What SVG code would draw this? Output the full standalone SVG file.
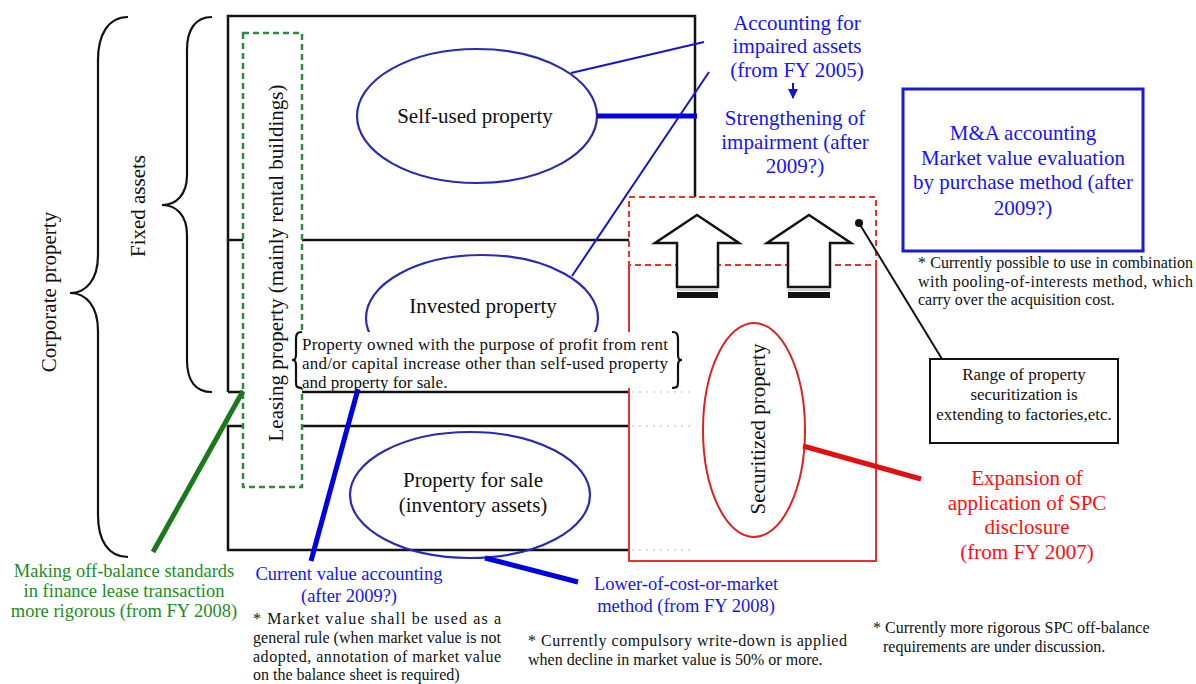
<svg xmlns="http://www.w3.org/2000/svg" width="1196" height="684" viewBox="0 0 1196 684">
<defs>
<style>
text{font-family:"Liberation Serif","Times New Roman",serif;}
.t21{font-size:21px;fill:#111;}
.blue{fill:#1414ff;}
.red{fill:#ff1010;}
.green{fill:#1e8c1e;}
.note{font-size:16px;fill:#111;}
.frame{fill:none;stroke:#111;stroke-width:2.5;}
.brace{fill:none;stroke:#111;stroke-width:2.2;}
.bellipse{fill:none;stroke:#2a2ab4;stroke-width:2.2;}
.rdash{fill:none;stroke:#e83030;stroke-width:2;stroke-dasharray:6 4;}
.rsolid{fill:none;stroke:#e83030;stroke-width:2;}
.faint{stroke:#d0d0d0;stroke-width:1.5;stroke-dasharray:2 5;fill:none;}
</style>
<marker id="ah" viewBox="0 0 10 10" refX="9" refY="5" markerWidth="5" markerHeight="5" orient="auto"><path d="M0,0 L10,5 L0,10 z" fill="#1414cc"/></marker>
</defs>
<rect width="1196" height="684" fill="#fff"/>

<g id="braces">
<path class="brace" d="M212,17 C195,17 187,30 187,50 L187,175 C187,195 176,205 162,205 C176,205 187,215 187,235 L187,360 C187,380 195,392 212,392"/>
<path class="brace" d="M128,17 C108,17 98,35 98,60 L98,255 C98,280 86,293 70,293 C86,293 98,306 98,331 L98,515 C98,540 108,557 128,557"/>
<text class="t21" transform="translate(145,206) rotate(-90)" text-anchor="middle">Fixed assets</text>
<text class="t21" transform="translate(56,292) rotate(-90)" text-anchor="middle">Corporate property</text>
</g>

<g id="frame">
<path class="frame" d="M228,392 L228,16 L695,16 L695,197"/>
<line class="frame" x1="228" y1="240" x2="629" y2="240"/>
<line class="frame" x1="228" y1="392" x2="629" y2="392"/>
<path class="frame" d="M629,426 L228,426 L228,550 L629,550"/>
<line class="faint" x1="632" y1="392" x2="690" y2="392"/>
<line class="faint" x1="632" y1="426" x2="690" y2="426"/>
<line class="faint" x1="632" y1="550" x2="690" y2="550"/>
</g>

<g id="securitized-box">
<rect class="rdash" x="629" y="197" width="247" height="68"/>
<path class="rsolid" d="M629,265 L629,561 L876,561 L876,265"/>
</g>

<g id="leasing">
<rect x="243" y="33" width="59" height="454" fill="#fff" stroke="#2e8b3e" stroke-width="2.5" stroke-dasharray="6 4"/>
<text class="t21" transform="translate(283,263) rotate(-90)" text-anchor="middle">Leasing property (mainly rental buildings)</text>
</g>

<g id="self-used">
<ellipse class="bellipse" cx="477" cy="116" rx="120" ry="67" fill="#fff"/>
<text class="t21" x="475" y="123" text-anchor="middle">Self-used property</text>
</g>

<g id="invested">
<ellipse class="bellipse" cx="482" cy="318" rx="116" ry="63"/>
<text class="t21" x="483" y="313" text-anchor="middle">Invested property</text>
</g>

<g id="invested-definition">
<rect x="295" y="332" width="383" height="56" fill="#fff"/>
<path class="brace" stroke-width="1.8" d="M302,332 C297,332 296,334 296,340 L296,354 C296,359 295,360 292,360 C295,360 296,361 296,366 L296,382 C296,387 297,388 302,388"/>
<path class="brace" stroke-width="1.8" d="M672,332 C677,332 678,334 678,340 L678,354 C678,359 679,360 682,360 C679,360 678,361 678,366 L678,382 C678,387 677,388 672,388"/>
<text style="font-size:17px;fill:#111" x="302" y="350" textLength="366" lengthAdjust="spacing">Property owned with the purpose of profit from rent</text>
<text style="font-size:17px;fill:#111" x="302" y="369" textLength="366" lengthAdjust="spacing">and/or capital increase other than self-used property</text>
<text style="font-size:17px;fill:#111" x="302" y="388">and property for sale.</text>
</g>

<g id="for-sale">
<ellipse class="bellipse" cx="470" cy="495" rx="120" ry="63"/>
<text class="t21" x="473" y="487" text-anchor="middle">Property for sale</text>
<text class="t21" x="473" y="512" text-anchor="middle">(inventory assets)</text>
</g>

<g id="securitized">
<ellipse cx="754" cy="430" rx="51" ry="107" fill="none" stroke="#e02020" stroke-width="2"/>
<text class="t21" transform="translate(765,429) rotate(-90)" text-anchor="middle">Securitized property</text>
</g>

<g id="arrows">
<polygon points="697,215 739,243 718,243 718,287 677,287 677,243 655,243" fill="#fff" stroke="#111" stroke-width="2.5" stroke-linejoin="miter"/>
<line x1="677" y1="290" x2="718" y2="290" stroke="#bbb" stroke-width="1.5"/>
<rect x="677" y="292" width="41" height="6" fill="#111"/>
<polygon points="809,215 851,243 830,243 830,287 788,287 788,243 767,243" fill="#fff" stroke="#111" stroke-width="2.5" stroke-linejoin="miter"/>
<line x1="788" y1="290" x2="830" y2="290" stroke="#bbb" stroke-width="1.5"/>
<rect x="788" y="292" width="42" height="6" fill="#111"/>
</g>

<g id="connectors">
<line x1="571" y1="73" x2="704" y2="42" stroke="#1515d0" stroke-width="2"/>
<line x1="597" y1="116" x2="697" y2="116" stroke="#0000e0" stroke-width="5"/>
<line x1="572" y1="276" x2="709" y2="72" stroke="#1515d0" stroke-width="2"/>
<line x1="358" y1="389" x2="311" y2="561" stroke="#0000e0" stroke-width="5"/>
<line x1="485" y1="558" x2="578" y2="582" stroke="#0000e0" stroke-width="5"/>
<line x1="243" y1="391" x2="153" y2="552" stroke="#1a7a1a" stroke-width="5"/>
<line x1="803" y1="446" x2="921" y2="479" stroke="#e01010" stroke-width="5"/>
<circle cx="859" cy="223" r="4" fill="#111"/>
<line x1="859" y1="223" x2="942" y2="359" stroke="#111" stroke-width="2"/>
<line x1="793" y1="83" x2="793" y2="98" stroke="#1414cc" stroke-width="2" marker-end="url(#ah)"/>
</g>

<g id="impaired-text">
<text class="t21 blue" x="797" y="30" text-anchor="middle">Accounting for</text>
<text class="t21 blue" x="797" y="53" text-anchor="middle">impaired assets</text>
<text class="t21 blue" x="797" y="77" text-anchor="middle">(from FY 2005)</text>
<text class="t21 blue" x="795" y="125" text-anchor="middle">Strengthening of</text>
<text class="t21 blue" x="795" y="149" text-anchor="middle">impairment (after</text>
<text class="t21 blue" x="795" y="173" text-anchor="middle">2009?)</text>
</g>

<g id="ma-box">
<rect x="903" y="89" width="240" height="162" fill="#fff" stroke="#1a1ad0" stroke-width="3"/>
<text class="t21 blue" x="1023" y="140" text-anchor="middle">M&amp;A accounting</text>
<text class="t21 blue" x="1023" y="165" text-anchor="middle">Market value evaluation</text>
<text class="t21 blue" x="1023" y="189" text-anchor="middle">by purchase method (after</text>
<text class="t21 blue" x="1023" y="215" text-anchor="middle">2009?)</text>
<text class="note" x="918" y="268" textLength="275" lengthAdjust="spacing">* Currently possible to use in combination</text>
<text class="note" x="918" y="287" textLength="275" lengthAdjust="spacing">with pooling-of-interests method, which</text>
<text class="note" x="918" y="305">carry over the acquisition cost.</text>
</g>

<g id="range-box">
<rect x="930" y="359" width="188" height="84" fill="#fff" stroke="#111" stroke-width="2"/>
<text style="font-size:17px;fill:#111" x="1024" y="380" text-anchor="middle">Range of property</text>
<text style="font-size:17px;fill:#111" x="1024" y="400" text-anchor="middle">securitization is</text>
<text style="font-size:17px;fill:#111" x="1024" y="420" text-anchor="middle">extending to factories,etc.</text>
</g>

<g id="spc-text">
<text class="t21 red" x="1027" y="485" text-anchor="middle">Expansion of</text>
<text class="t21 red" x="1027" y="510" text-anchor="middle">application of SPC</text>
<text class="t21 red" x="1027" y="534" text-anchor="middle">disclosure</text>
<text class="t21 red" x="1027" y="559" text-anchor="middle">(from FY 2007)</text>
<text class="note" x="873" y="633">* Currently more rigorous SPC off-balance</text>
<text class="note" x="883" y="652">requirements are under discussion.</text>
</g>

<g id="lease-text">
<text class="green" style="font-size:18.5px" x="124" y="577" text-anchor="middle">Making off-balance standards</text>
<text class="green" style="font-size:18.5px" x="124" y="597" text-anchor="middle">in finance lease transaction</text>
<text class="green" style="font-size:18.5px" x="124" y="617" text-anchor="middle">more rigorous (from FY 2008)</text>
</g>

<g id="current-value-text">
<text class="blue" style="font-size:18.5px" x="349" y="580" text-anchor="middle">Current value accounting</text>
<text class="blue" style="font-size:18.5px" x="349" y="602" text-anchor="middle">(after 2009?)</text>
<text class="note" x="253" y="624" textLength="248" lengthAdjust="spacing">* Market value shall be used as a</text>
<text class="note" x="253" y="643" textLength="248" lengthAdjust="spacing">general rule (when market value is not</text>
<text class="note" x="253" y="662" textLength="248" lengthAdjust="spacing">adopted, annotation of market value</text>
<text class="note" x="253" y="680">on the balance sheet is required)</text>
</g>

<g id="lower-cost-text">
<text class="blue" style="font-size:18.5px" x="686" y="590" text-anchor="middle">Lower-of-cost-or-market</text>
<text class="blue" style="font-size:18.5px" x="686" y="612" text-anchor="middle">method (from FY 2008)</text>
<text class="note" x="528" y="646" textLength="319" lengthAdjust="spacing">* Currently compulsory write-down is applied</text>
<text class="note" x="528" y="665">when decline in market value is 50% or more.</text>
</g>
</svg>
